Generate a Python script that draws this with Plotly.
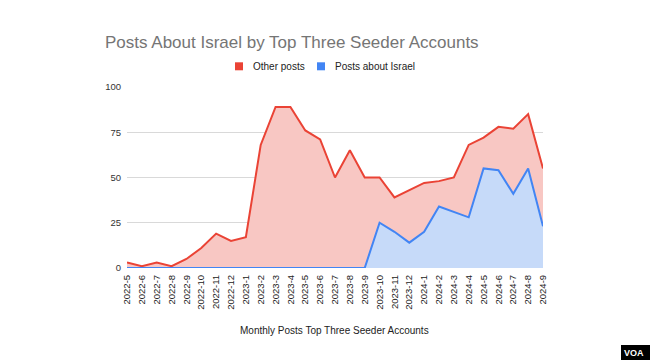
import plotly.graph_objects as go

months = ["2022-5","2022-6","2022-7","2022-8","2022-9","2022-10","2022-11","2022-12",
          "2023-1","2023-2","2023-3","2023-4","2023-5","2023-6","2023-7","2023-8","2023-9",
          "2023-10","2023-11","2023-12","2024-1","2024-2","2024-3","2024-4","2024-5",
          "2024-6","2024-7","2024-8","2024-9"]
other_posts = [3, 1, 3, 1, 5, 11, 19, 15, 17, 68, 89, 89, 76, 71, 50, 65, 50,
               50, 39, 43, 47, 48, 50, 68, 72, 78, 77, 85, 55]
israel_posts = [0, 0, 0, 0, 0, 0, 0, 0, 0, 0, 0, 0, 0, 0, 0, 0, 0,
                25, 20, 14, 20, 34, 31, 28, 55, 54, 41, 55, 23]
y_ticks = [0, 25, 50, 75, 100]
legend_names = ["Other posts", "Posts about Israel"]

RED = "#ea4335"
BLUE = "#4285f4"
FONT = "Arial, Liberation Sans, sans-serif"

L, R, T, B = 127, 543, 87, 268
W, H = 650, 361


def px(xp):
    return (xp - L) / (R - L)


def py(yp):
    return (B - yp) / (B - T)


fig = go.Figure()
fig.add_trace(go.Scatter(x=months, y=other_posts, mode="lines", fill="tozeroy",
                         name=legend_names[0],
                         line=dict(color=RED, width=2), fillcolor="#f8c7c3",
                         showlegend=False, hoverinfo="x+y"))
fig.add_trace(go.Scatter(x=months, y=israel_posts, mode="lines", fill="tozeroy",
                         name=legend_names[1],
                         line=dict(color=BLUE, width=2), fillcolor="#c6daf9",
                         showlegend=False, hoverinfo="x+y"))

shapes = []
annotations = []
# manual legend
for (sq_x, txt_x, color, name) in [(239, 251, RED, legend_names[0]),
                                   (321, 333, BLUE, legend_names[1])]:
    shapes.append(dict(type="rect", xref="paper", yref="paper",
                       x0=px(sq_x - 4), x1=px(sq_x + 4), y0=py(70.3), y1=py(62.3),
                       fillcolor=color, line=dict(width=0)))
    annotations.append(dict(text=name, xref="paper", yref="paper",
                            x=px(txt_x), y=py(66.3), xanchor="left", yanchor="middle",
                            showarrow=False, font=dict(size=10, color="#222222", family=FONT)))

annotations.append(dict(text="Monthly Posts Top Three Seeder Accounts", xref="paper", yref="paper",
                        x=px(334), y=py(330), xanchor="center", yanchor="middle", showarrow=False,
                        font=dict(size=10, color="#222222", family=FONT)))
shapes.append(dict(type="rect", xref="paper", yref="paper",
                   x0=px(621), x1=px(650), y0=py(360), y1=py(345),
                   fillcolor="black", line=dict(width=0)))
annotations.append(dict(text="<b>VOA</b>", xref="paper", yref="paper",
                        x=px(634), y=py(353), xanchor="center", yanchor="middle",
                        showarrow=False, font=dict(size=9, color="white", family=FONT)))

fig.update_layout(
    width=W, height=H,
    margin=dict(l=L, r=W - R, t=T, b=H - B),
    paper_bgcolor="white", plot_bgcolor="white",
    font=dict(family=FONT, color="#222222", size=9),
    title=dict(text="Posts About Israel by Top Three Seeder Accounts",
               x=105/W, xanchor="left", xref="container",
               y=1 - 42/H, yanchor="middle", yref="container",
               font=dict(size=17, color="#757575", family=FONT)),
    showlegend=False,
    xaxis=dict(type="category", categoryorder="array", categoryarray=months,
               range=[0, len(months) - 1], tickangle=-90, showgrid=False,
               showline=False, zeroline=False, ticks="", tickfont=dict(size=9.5, color="#222222"),
               ticklabelstandoff=4, fixedrange=True),
    yaxis=dict(range=[0, 100], tickvals=y_ticks, ticktext=[str(v) for v in y_ticks],
               showgrid=True, gridcolor="#d9d9d9", gridwidth=1, zeroline=False,
               showline=False, ticks="", tickfont=dict(size=9.5, color="#333333"),
               ticklabelstandoff=5, fixedrange=True),
    shapes=shapes,
    annotations=annotations,
)

fig.write_html("out.html", config={"displayModeBar": False},
               post_script="document.body.style.margin='0';")
